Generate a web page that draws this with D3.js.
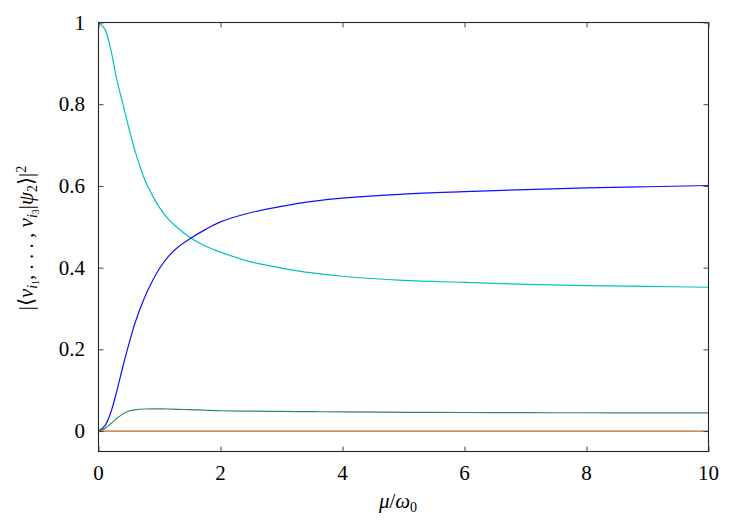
<!DOCTYPE html>
<html><head><meta charset="utf-8">
<script src="https://cdn.jsdelivr.net/npm/d3@7"></script>
<style>body{margin:0;background:#fff}</style>
</head><body>
<svg id="c" width="750" height="525"></svg>
<script>
const mu = [0,0.1,0.2,0.3,0.4,0.5,0.6,0.75,0.9,1.0,1.15,1.3,1.5,1.75,2,2.5,3,3.5,4,5,6,7,8,9,10];
const cyanVals = [1,0.985,0.935,0.86,0.80,0.74,0.685,0.618,0.572,0.547,0.518,0.497,0.474,0.453,0.438,0.414,0.399,0.387,0.379,0.369,0.364,0.359,0.356,0.354,0.352];
const blueVals = [0,0.012,0.045,0.098,0.158,0.214,0.265,0.325,0.372,0.398,0.428,0.450,0.471,0.493,0.512,0.535,0.550,0.562,0.570,0.580,0.586,0.591,0.595,0.598,0.601];
const greenVals = [0,0.006,0.018,0.031,0.042,0.049,0.052,0.054,0.0545,0.0543,0.054,0.053,0.0525,0.051,0.0497,0.0487,0.048,0.0475,0.047,0.046,0.0455,0.045,0.0448,0.0446,0.0445];
const orangeVals = [0,0,0,0,0,0,0,0,0,0,0,0,0,0,0,0,0,0,0,0,0,0,0,0,0];
const xTicks = [0,2,4,6,8,10];
const yTicks = [0,0.2,0.4,0.6,0.8,1];
const yTickLabels = ["0","0.2","0.4","0.6","0.8","1"];

const series = [
  {vals: cyanVals, color: "#00c0c0"},
  {vals: blueVals, color: "#1010ff"},
  {vals: greenVals, color: "#2e8b57"},
  {vals: orangeVals, color: "#c0661e"}
];

const L = 98.5, R = 708.5, T = 22.5, B = 451.5;
const x = d3.scaleLinear().domain([0,10]).range([L,R]);
const y = d3.scaleLinear().domain([-0.05,1]).range([B,T]);
const svg = d3.select("#c");
const FONT = '"Liberation Serif"';
const tl = 5;

const line = d3.line().x((d,i)=>x(mu[i])).y(d=>y(d)).curve(d3.curveCatmullRom.alpha(0.5));
svg.append("g").selectAll("path").data(series).join("path")
  .attr("d", s=>line(s.vals)).attr("fill","none")
  .attr("stroke", s=>s.color).attr("stroke-width",1.2);

svg.append("rect").attr("x",L).attr("y",T).attr("width",R-L).attr("height",B-T)
  .attr("fill","none").attr("stroke","#222").attr("stroke-width",1.1);

// ticks via axes (no labels)
const noLab = g => { g.select(".domain").remove(); g.selectAll("line").attr("stroke","#444"); g.selectAll("text").remove(); };
svg.append("g").attr("transform",`translate(0,${B})`).call(d3.axisBottom(x).tickValues(xTicks).tickSizeInner(-tl).tickSizeOuter(0)).call(noLab);
svg.append("g").attr("transform",`translate(0,${T})`).call(d3.axisTop(x).tickValues(xTicks).tickSizeInner(-tl).tickSizeOuter(0)).call(noLab);
svg.append("g").attr("transform",`translate(${L},0)`).call(d3.axisLeft(y).tickValues(yTicks).tickSizeInner(-tl).tickSizeOuter(0)).call(noLab);
svg.append("g").attr("transform",`translate(${R},0)`).call(d3.axisRight(y).tickValues(yTicks).tickSizeInner(-tl).tickSizeOuter(0)).call(noLab);

// tick labels as plain text
svg.append("g").selectAll("text").data(xTicks).join("text")
  .attr("x", d=>x(d)).attr("y", 480).attr("text-anchor","middle")
  .style("font-family", FONT).style("font-size","21px").text(d=>String(d));
svg.append("g").selectAll("text").data(yTicks).join("text")
  .attr("x", 85).attr("y", d=>y(d)+7).attr("text-anchor","end")
  .style("font-family", FONT).style("font-size","21px").text((d,i)=>yTickLabels[i]);

const xt = svg.append("text").attr("x",398).attr("y",508).attr("text-anchor","middle")
  .style("font-family", FONT).style("font-size","21px");
xt.append("tspan").style("font-style","italic").text("μ");
xt.append("tspan").text("/");
xt.append("tspan").style("font-style","italic").text("ω");
xt.append("tspan").style("font-size","14px").attr("dy",4).text("0");

const yt = svg.append("text").attr("transform","translate(33,238) rotate(-90)")
  .attr("text-anchor","middle").style("font-family", FONT).style("font-size","21px");
yt.append("tspan").text("|⟨");
yt.append("tspan").style("font-style","italic").text("ν");
yt.append("tspan").style("font-style","italic").style("font-size","14px").attr("dy",4).text("i");
yt.append("tspan").style("font-size","10px").attr("dy",2).text("1");
yt.append("tspan").attr("dy",-6).text(", . . . , ");
yt.append("tspan").style("font-style","italic").text("ν");
yt.append("tspan").style("font-style","italic").style("font-size","14px").attr("dy",4).text("i");
yt.append("tspan").style("font-size","10px").attr("dy",2).text("3");
yt.append("tspan").attr("dy",-6).text("|");
yt.append("tspan").style("font-style","italic").text("ψ");
yt.append("tspan").style("font-size","14px").attr("dy",4).text("2");
yt.append("tspan").attr("dy",-4).text("⟩|");
yt.append("tspan").style("font-size","14px").attr("dy",-7).text("2");
</script>
</body></html>
